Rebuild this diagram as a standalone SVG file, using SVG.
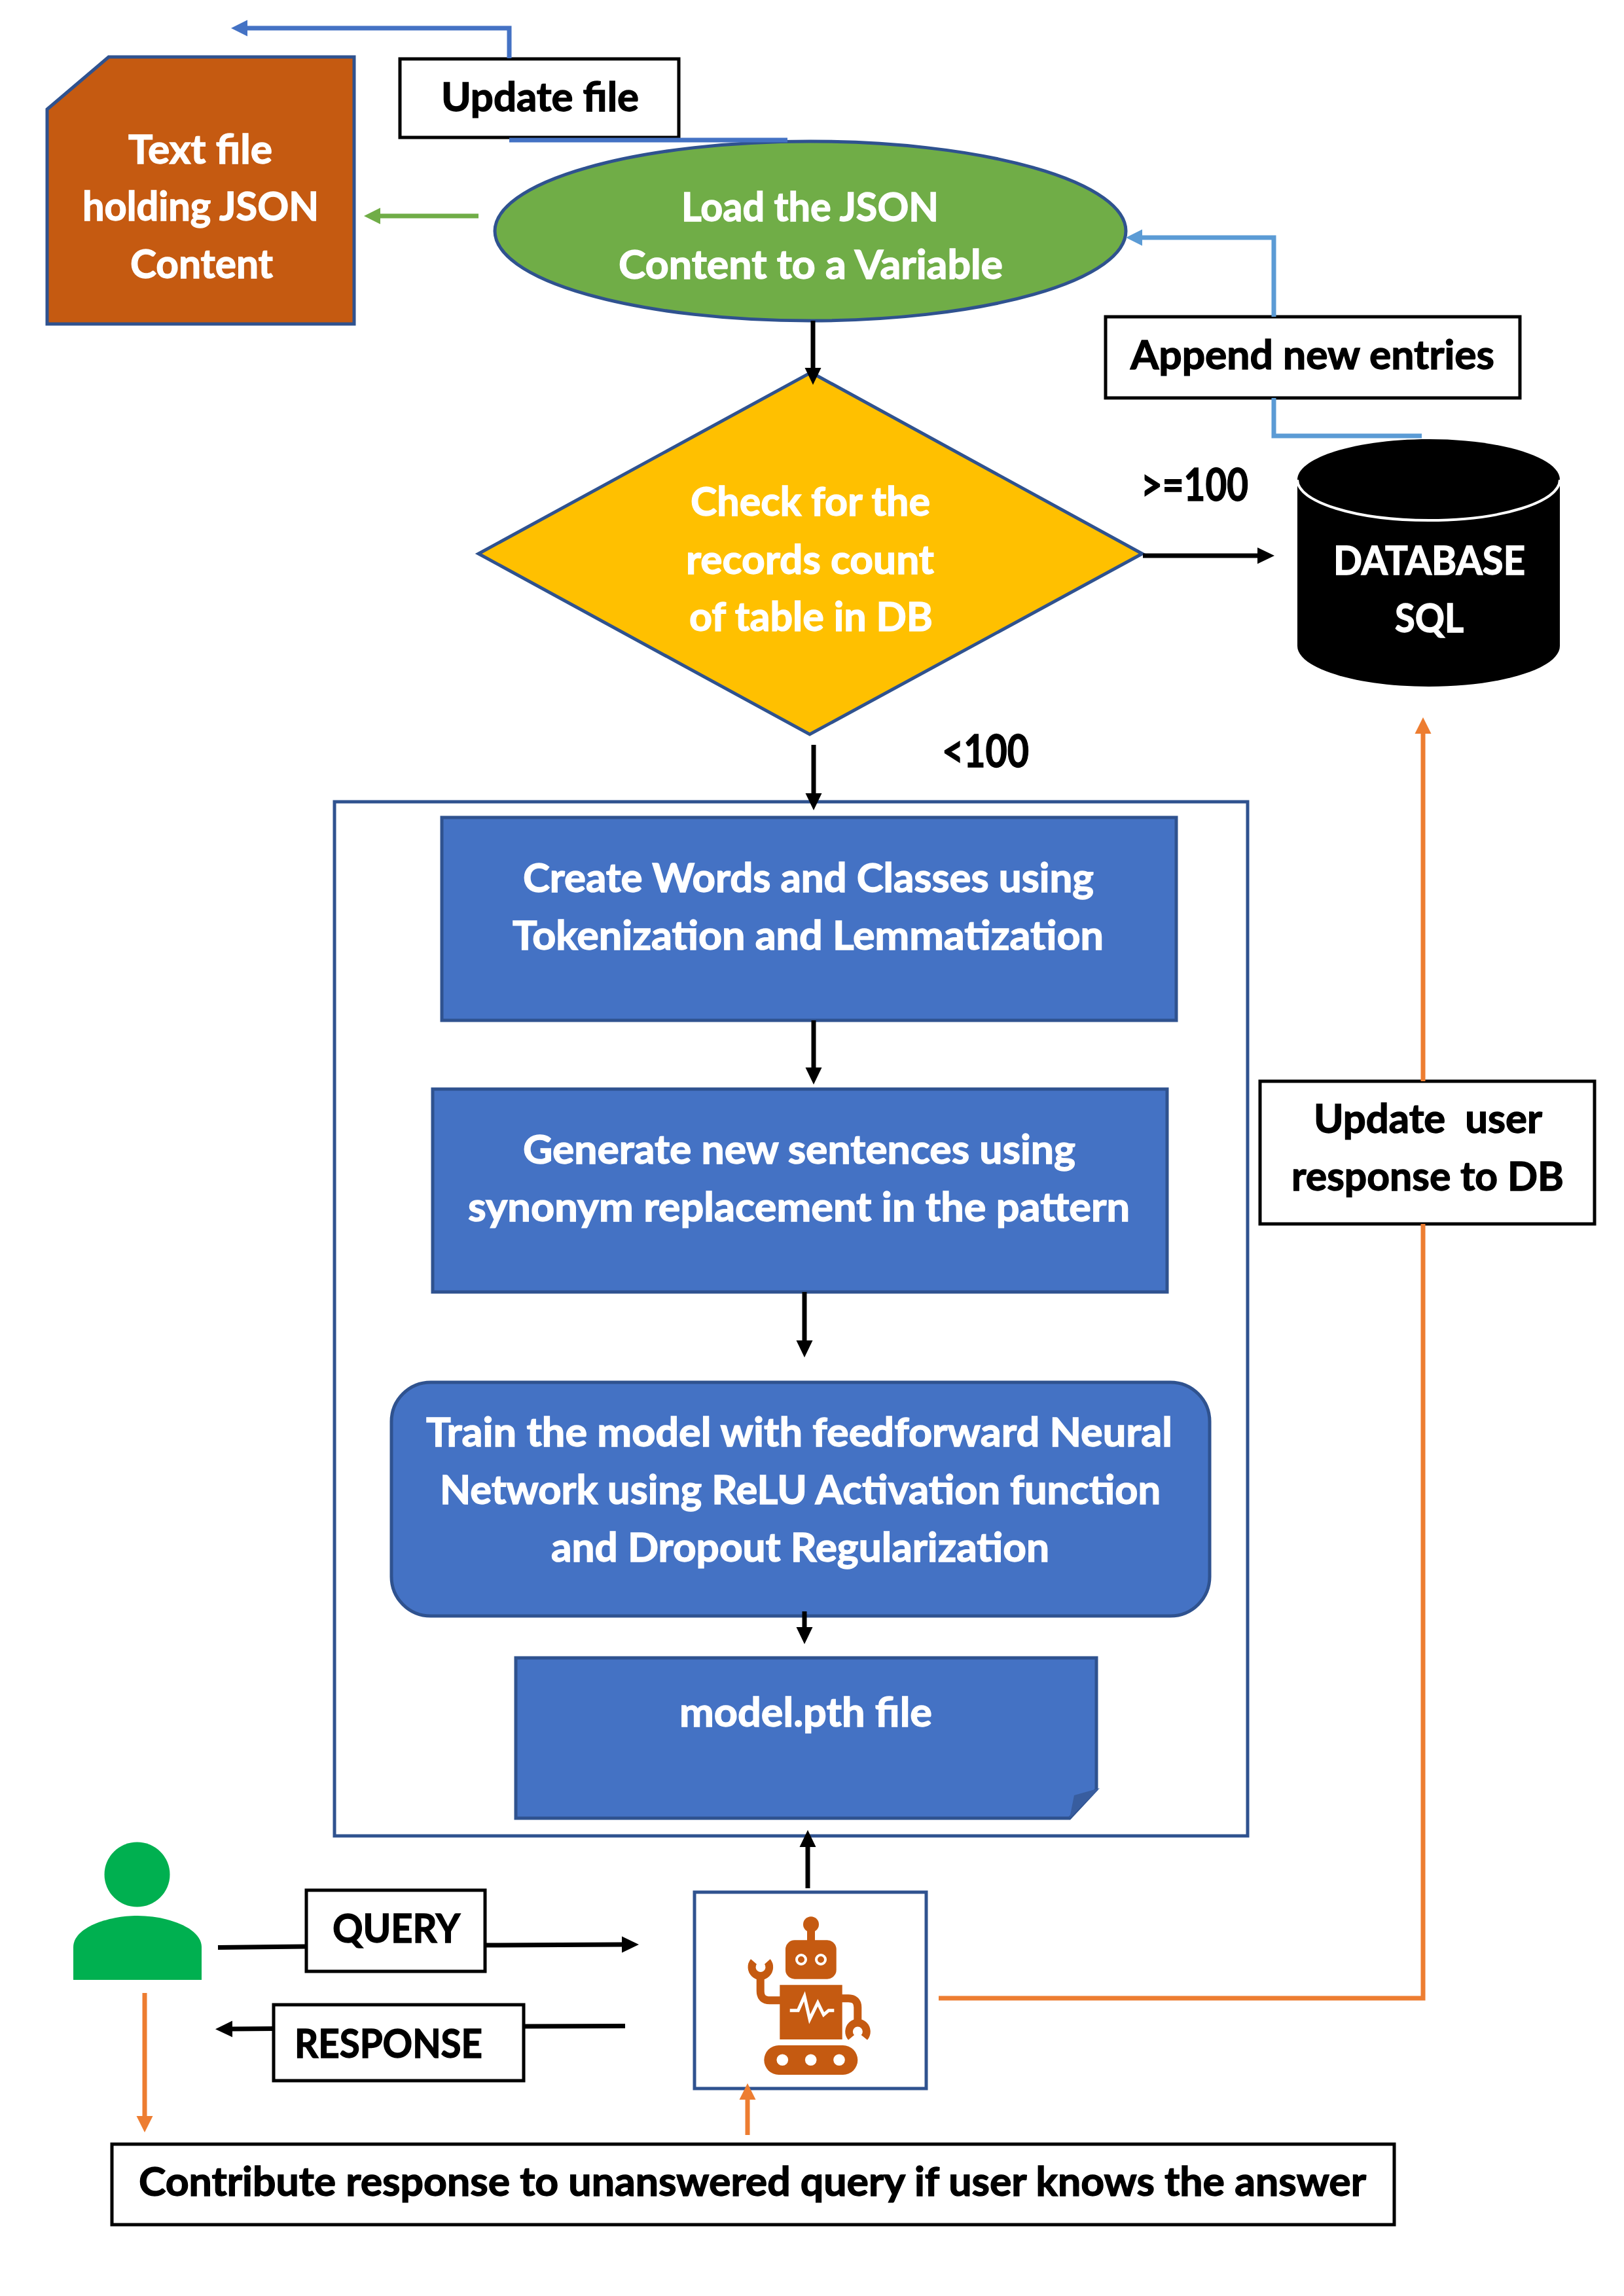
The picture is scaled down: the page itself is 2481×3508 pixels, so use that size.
<svg xmlns="http://www.w3.org/2000/svg" width="2481" height="3508" viewBox="0 0 2481 3508">
<style>
text{font-family:Lato,"Liberation Sans",sans-serif;font-weight:700;font-size:62px;white-space:pre;stroke-width:1.4}
.w{fill:#fff;stroke:#fff}.k{fill:#000;stroke:#000}
.shape{stroke:#2F528F;stroke-width:5}
.label{fill:#fff;stroke:#000;stroke-width:5}
.c{fill:none;stroke-width:7}
.robot{fill:#C55A11}
</style>
<defs>
<marker id="ak" markerUnits="userSpaceOnUse" markerWidth="27" markerHeight="28" refX="0" refY="14" orient="auto"><path d="M0 1.5L26 14L0 26.5Z" fill="#000"/></marker>
<marker id="ab" markerUnits="userSpaceOnUse" markerWidth="27" markerHeight="28" refX="0" refY="14" orient="auto"><path d="M0 1.5L25 14L0 26.5Z" fill="#4472C4"/></marker>
<marker id="ag" markerUnits="userSpaceOnUse" markerWidth="27" markerHeight="28" refX="0" refY="14" orient="auto"><path d="M0 1.5L25 14L0 26.5Z" fill="#70AD47"/></marker>
<marker id="al" markerUnits="userSpaceOnUse" markerWidth="27" markerHeight="28" refX="0" refY="14" orient="auto"><path d="M0 1.5L25 14L0 26.5Z" fill="#5B9BD5"/></marker>
<marker id="ao" markerUnits="userSpaceOnUse" markerWidth="27" markerHeight="28" refX="0" refY="14" orient="auto"><path d="M0 1.500L25 14L0 26.500Z" fill="#ED7D31"/></marker>
</defs>
<rect width="2481" height="3508" fill="#fff"/>

<g id="container"><rect x="511" y="1225" width="1395" height="1580" fill="none" class="shape"/></g>

<g id="text-file">
<path d="M166 87H541V495H72V167Z" fill="#C55A11" class="shape"/>
<text class="w" x="196" y="250" textLength="220" lengthAdjust="spacingAndGlyphs">Text file</text>
<text class="w" x="126" y="337" textLength="361" lengthAdjust="spacingAndGlyphs">holding JSON</text>
<text class="w" x="199" y="425" textLength="218" lengthAdjust="spacingAndGlyphs">Content</text>
</g>
<g id="update-file">
<rect x="611" y="90" width="426" height="120" class="label"/>
<text class="k" x="674" y="170" textLength="302" lengthAdjust="spacingAndGlyphs">Update file</text>
</g>
<g id="load-json">
<ellipse cx="1238" cy="353" rx="482" ry="137" fill="#70AD47" class="shape"/>
<text class="w" x="1041" y="338" textLength="393" lengthAdjust="spacingAndGlyphs">Load the JSON</text>
<text class="w" x="945" y="426" textLength="587" lengthAdjust="spacingAndGlyphs">Content to a Variable</text>
</g>
<g id="append-entries">
<rect x="1689" y="484" width="633" height="124" class="label"/>
<text class="k" x="1727" y="564" textLength="556" lengthAdjust="spacingAndGlyphs">Append new entries</text>
</g>
<g id="check-count">
<path d="M1239 569L1745 846L1237 1122L731 846Z" fill="#FFC000" class="shape"/>
<text class="w" x="1055" y="788" textLength="366" lengthAdjust="spacingAndGlyphs">Check for the</text>
<text class="w" x="1048" y="877" textLength="379" lengthAdjust="spacingAndGlyphs">records count</text>
<text class="w" x="1053" y="964" textLength="372" lengthAdjust="spacingAndGlyphs">of table in DB</text>
</g>
<g id="database">
<path d="M1982 733C1982 699 2072 671 2183 671C2294 671 2383 699 2383 733V987C2383 1021 2294 1049 2183 1049C2072 1049 1982 1021 1982 987Z" fill="#000"/>
<path d="M1982 733C1982 767 2072 795 2183 795C2294 795 2383 767 2383 733" fill="none" stroke="#fff" stroke-width="4"/>
<text class="w" x="2037" y="878" textLength="293" lengthAdjust="spacingAndGlyphs">DATABASE</text>
<text class="w" x="2131" y="966" textLength="105" lengthAdjust="spacingAndGlyphs">SQL</text>
</g>
<g id="label-ge100"><text class="k" x="1743" y="765" textLength="164" lengthAdjust="spacingAndGlyphs" style="font-size:68px">&gt;=100</text></g>
<g id="label-lt100"><text class="k" x="1439" y="1172" textLength="133" lengthAdjust="spacingAndGlyphs" style="font-size:68px">&lt;100</text></g>
<g id="create-words">
<rect x="675" y="1249" width="1122" height="310" fill="#4472C4" class="shape"/>
<text class="w" x="799" y="1363" textLength="872" lengthAdjust="spacingAndGlyphs">Create Words and Classes using</text>
<text class="w" x="783" y="1451" textLength="903" lengthAdjust="spacingAndGlyphs">Tokenization and Lemmatization</text>
</g>
<g id="generate-sentences">
<rect x="661" y="1664" width="1122" height="310" fill="#4472C4" class="shape"/>
<text class="w" x="799" y="1778" textLength="844" lengthAdjust="spacingAndGlyphs">Generate new sentences using</text>
<text class="w" x="715" y="1866" textLength="1011" lengthAdjust="spacingAndGlyphs">synonym replacement in the pattern</text>
</g>
<g id="train-model">
<rect x="598" y="2112" width="1250" height="357" rx="60" ry="60" fill="#4472C4" class="shape"/>
<text class="w" x="651" y="2210" textLength="1140" lengthAdjust="spacingAndGlyphs">Train the model with feedforward Neural</text>
<text class="w" x="672" y="2298" textLength="1101" lengthAdjust="spacingAndGlyphs">Network using ReLU Activation function</text>
<text class="w" x="842" y="2386" textLength="761" lengthAdjust="spacingAndGlyphs">and Dropout Regularization</text>
</g>
<g id="model-file">
<path d="M788 2533H1675V2734L1634 2778H788Z" fill="#4472C4" class="shape"/>
<path d="M1641 2743L1680 2732L1634 2778Z" fill="#385D9F"/>
<text class="w" x="1038" y="2638" textLength="386" lengthAdjust="spacingAndGlyphs">model.pth file</text>
</g>
<g id="update-response">
<rect x="1925" y="1652" width="511" height="218" class="label"/>
<text class="k" x="2007" y="1731" textLength="349" lengthAdjust="spacingAndGlyphs">Update  user</text>
<text class="k" x="1973" y="1819" textLength="416" lengthAdjust="spacingAndGlyphs">response to DB</text>
</g>
<g id="user">
<ellipse cx="209.500" cy="2864" rx="50" ry="49.500" fill="#00B050"/>
<path d="M112 3025V2975C112 2945 165 2927 210 2927C255 2927 308 2945 308 2975V3025Z" fill="#00B050"/>
</g>
<g id="query">
<rect x="468" y="2888" width="273" height="124" class="label"/>
<text class="k" x="508" y="2968" textLength="195" lengthAdjust="spacingAndGlyphs">QUERY</text>
</g>
<g id="response">
<rect x="418" y="3063" width="382" height="116" class="label"/>
<text class="k" x="450" y="3144" textLength="287" lengthAdjust="spacingAndGlyphs">RESPONSE</text>
</g>
<g id="robot">
<rect x="1061" y="2891" width="354" height="300" fill="#fff" class="shape"/>
<g class="robot">
<circle cx="1239" cy="2940.300" r="12"/>
<rect x="1233" y="2945" width="12" height="22"/>
<rect x="1200" y="2964.300" width="77.700" height="59.400" rx="14"/>
<rect x="1191.300" y="3032.700" width="95.400" height="83.300"/>
<rect x="1167.300" y="3125" width="143" height="45" rx="22.500"/>
<path d="M1192 3056.300H1176Q1161.700 3056.300 1161.700 3042V3020" fill="none" stroke="#C55A11" stroke-width="12"/>
<path d="M1286 3053.300H1296Q1310.300 3053.300 1310.300 3067V3095" fill="none" stroke="#C55A11" stroke-width="12"/>
<path d="M1147 2993.300A19.300 19.300 0 1 0 1176.700 2993.300L1168 3001A7.500 7.500 0 1 1 1156 3001Z"/>
<path d="M1296 3116.700A19.300 19.300 0 1 1 1325 3116.700L1315.700 3109.300A7.500 7.500 0 1 0 1305 3109.300Z"/>
</g>
<circle cx="1224" cy="2994" r="7" fill="none" stroke="#fff" stroke-width="4"/>
<circle cx="1254" cy="2994" r="7" fill="none" stroke="#fff" stroke-width="4"/>
<circle cx="1195.300" cy="3147.300" r="8.800" fill="#fff"/>
<circle cx="1238.700" cy="3147.300" r="8.800" fill="#fff"/>
<circle cx="1282" cy="3147.300" r="8.800" fill="#fff"/>
<path d="M1206.700 3071.700H1219.300L1229 3050L1237 3085L1249.300 3060L1258.300 3078.300L1266 3071.700H1274.300" fill="none" stroke="#fff" stroke-width="5"/>
</g>
<g id="contribute">
<rect x="171" y="3276" width="1959" height="123" class="label"/>
<text class="k" x="212" y="3355" textLength="1875" lengthAdjust="spacingAndGlyphs">Contribute response to unanswered query if user knows the answer</text>
</g>

<g id="connectors">
<path class="c" d="M778 89V43H378" stroke="#4472C4" marker-end="url(#ab)"/>
<path class="c" d="M778 214H1203" stroke="#4472C4"/>
<path class="c" d="M731 330H581" stroke="#70AD47" marker-end="url(#ag)"/>
<path class="c" d="M2172 666H1946V608" stroke="#5B9BD5"/>
<path class="c" d="M1946 484V363H1745" stroke="#5B9BD5" marker-end="url(#al)"/>
<path class="c" d="M1242 490V562" stroke="#000" marker-end="url(#ak)"/>
<path class="c" d="M1746 849H1921" stroke="#000" marker-end="url(#ak)"/>
<path class="c" d="M1243 1138V1212" stroke="#000" marker-end="url(#ak)"/>
<path class="c" d="M1243 1559V1631" stroke="#000" marker-end="url(#ak)"/>
<path class="c" d="M1229 1974V2048" stroke="#000" marker-end="url(#ak)"/>
<path class="c" d="M1229 2462V2486" stroke="#000" marker-end="url(#ak)"/>
<path class="c" d="M1234 2885V2822" stroke="#000" marker-end="url(#ak)"/>
<path class="c" d="M333 2975.500L468 2974" stroke="#000"/>
<path class="c" d="M741 2972L950 2971" stroke="#000" marker-end="url(#ak)"/>
<path class="c" d="M955 3095.500L800 3096" stroke="#000"/>
<path class="c" d="M418 3099.500L355 3100" stroke="#000" marker-end="url(#ak)"/>
<path class="c" d="M221 3045V3233" stroke="#ED7D31" marker-end="url(#ao)"/>
<path class="c" d="M1142 3262V3208" stroke="#ED7D31" marker-end="url(#ao)"/>
<path class="c" d="M1434 3053H2174V1870" stroke="#ED7D31"/>
<path class="c" d="M2174 1652V1121" stroke="#ED7D31" marker-end="url(#ao)"/>
</g>
</svg>
